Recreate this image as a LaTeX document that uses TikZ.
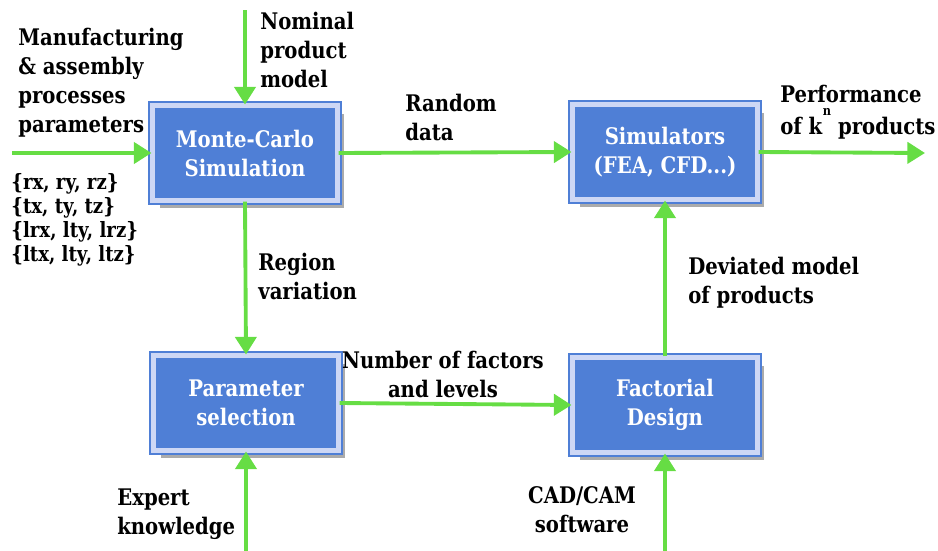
\documentclass[tikz,border=0pt]{standalone}
\usepackage{fontspec}
\setmainfont{DejaVu Serif}[FakeStretch=0.86]
\usetikzlibrary{positioning, arrows.meta, shadows}

\definecolor{boxblue}{RGB}{79,127,214}
\definecolor{boxrim}{RGB}{205,215,245}
\definecolor{flowgreen}{RGB}{102,221,68}

\begin{document}
\begin{tikzpicture}[
    x=0.02cm, y=-0.02cm,
    block/.style={rectangle, draw=boxblue, double=boxrim, double distance=3pt, line width=1.2pt,
        fill=boxblue, text=white, minimum width=3.7cm, minimum height=1.9cm,
        align=center, font=\fontsize{13}{16.5}\selectfont\bfseries,
        drop shadow={shadow xshift=0.14cm, shadow yshift=-0.16cm, fill=black!55, opacity=0.6}},
    flow/.style={-{Triangle[length=10pt, width=12pt]}, line width=2.2pt, flowgreen},
    label/.style={inner sep=0pt, align=left, font=\fontsize{13}{16.5}\selectfont\bfseries},
    setlist/.style={inner sep=0pt, align=left, font=\fontsize{12}{13.6}\selectfont\bfseries}
]
\useasboundingbox (0,0) rectangle (938,551);

% Blocks
\node[block] (mc) at (245,153) {Monte-Carlo\\Simulation};
\node[block] (sim) at (665,152) {Simulators\\(FEA, CFD...)};
\node[block] (par) at (246,403) {Parameter\\selection};
\node[block] (fac) at (665,405) {Factorial\\Design};

% Free ends
\coordinate (in) at (12,153);
\coordinate (nom) at (245,10);
\coordinate (out) at (925,153);
\coordinate (exp) at (246,551);
\coordinate (cad) at (665,551);

% Connectors
\draw[flow] (in) -- (mc.west);
\draw[flow] (nom) -- (mc.north);
\draw[flow] (mc.east) -- (sim.west);
\draw[flow] (sim.east) -- (out);
\draw[flow] (mc.south) -- (par.north);
\draw[flow] (par.east) -- (fac.west);
\draw[flow] (fac.north) -- (sim.south);
\draw[flow] (exp) -- (par.south);
\draw[flow] (cad) -- (fac.south);

% Labels
\node[label, anchor=west] (lmanu) at (18,83) {Manufacturing\\\& assembly\\processes\\parameters};
\node[setlist, anchor=west] (lset) at (11,220) {\{rx, ry, rz\}\\\{tx, ty, tz\}\\\{lrx, lty, lrz\}\\\{ltx, lty, ltz\}};
\node[label, anchor=west] (lnom) at (260,50) {Nominal\\product\\model};
\node[label, anchor=west] (lrand) at (405,117) {Random\\data};
\node[label, anchor=west] (lperf) at (780,112) {Performance\\[2pt]of k\hspace{9pt}products};
\node[inner sep=0pt, font=\fontsize{7.5}{7.5}\selectfont\bfseries] (lexp) at (827,112) {n};
\node[label, anchor=west] (lreg) at (258,276) {Region\\variation};
\node[label, align=center] (lnum) at (443,374) {Number of factors\\and levels};
\node[label, anchor=west] (ldev) at (688,283) {Deviated model\\of products};
\node[label, anchor=west] (lexpk) at (117,514) {Expert\\knowledge};
\node[label, align=center] (lcad) at (582,510) {CAD/CAM\\software};

\end{tikzpicture}
\end{document}
